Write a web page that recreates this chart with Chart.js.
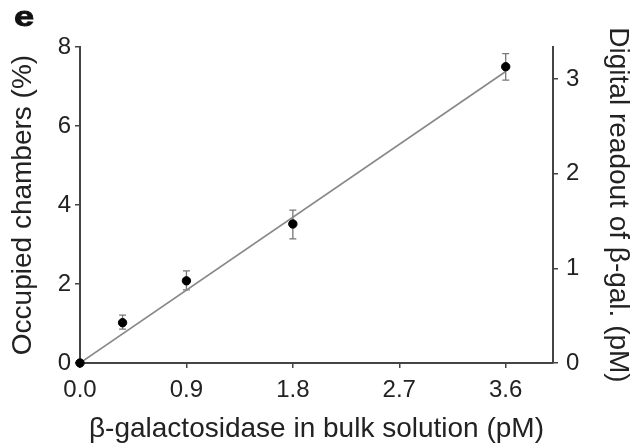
<!DOCTYPE html>
<html>
<head>
<meta charset="utf-8">
<script src="https://cdn.jsdelivr.net/npm/chart.js@4/dist/chart.umd.min.js"></script>
<style>
  body { margin: 0; background: #fff; }
  canvas { display: block; }
</style>
</head>
<body>
<canvas id="myChart" width="639" height="446"></canvas>
<script>
// concentration (pM) vs. occupied chambers (%)
const concX = [0, 0.36, 0.9, 1.8, 3.6];
const occupied = [0, 1.02, 2.08, 3.52, 7.50];
const errHigh = [0, 1.21, 2.33, 3.87, 7.83];
const errLow = [0, 0.86, 1.85, 3.14, 7.16];

// linear fit
const fitX = [0, 3.6];
const fitY = [0, 7.38];

const xTicks = [0, 0.9, 1.8, 2.7, 3.6];
const yTicks = [0, 2, 4, 6, 8];
const y2Ticks = [0, 1, 2, 3];

const FONT = "'Liberation Sans', Arial, sans-serif";
const AXIS = '#444';

const setTicks = (list) => (scale) => {
    scale.ticks = list.map(v => ({ value: v }));
};

const errorBars = {
    id: 'errorBars',
    beforeDatasetsDraw(chart) {
        const ctx = chart.ctx;
        const xs = chart.scales.x, ys = chart.scales.y;
        ctx.save();
        ctx.strokeStyle = '#777';
        ctx.lineWidth = 1.3;
        concX.forEach((x, i) => {
            if (errHigh[i] === errLow[i]) return;
            const px = xs.getPixelForValue(x);
            const top = ys.getPixelForValue(errHigh[i]);
            const bot = ys.getPixelForValue(errLow[i]);
            ctx.beginPath();
            ctx.moveTo(px, top); ctx.lineTo(px, bot);
            ctx.moveTo(px - 3.5, top); ctx.lineTo(px + 3.5, top);
            ctx.moveTo(px - 3.5, bot); ctx.lineTo(px + 3.5, bot);
            ctx.stroke();
        });
        ctx.restore();
    }
};

// bold panel letter in the top-left corner
const panelLetter = {
    id: 'panelLetter',
    afterDraw(chart) {
        const ctx = chart.ctx;
        ctx.save();
        ctx.translate(14, 26);
        ctx.scale(1.3, 1);
        ctx.font = 'bold 28px ' + FONT;
        ctx.fillStyle = '#111';
        ctx.strokeStyle = '#111';
        ctx.lineWidth = 0.8;
        ctx.textBaseline = 'alphabetic';
        ctx.fillText('e', 0, 0);
        ctx.strokeText('e', 0, 0);
        ctx.restore();
    }
};

const axisBase = (title, pad) => ({
    grid: { display: true, drawOnChartArea: false, drawTicks: true, tickLength: 5, color: AXIS, lineWidth: 1.5 },
    border: { display: true, color: AXIS, width: 2 },
    ticks: { color: '#222', font: { family: FONT, size: 24 }, padding: 4 },
    title: { display: true, text: title, color: '#222', font: { family: FONT, size: 28 }, padding: pad }
});

const xAxis = axisBase('β-galactosidase in bulk solution (pM)', { top: 0, bottom: 0 });
Object.assign(xAxis, {
    type: 'linear', position: 'bottom', min: 0, max: 4.0,
    afterBuildTicks: setTicks(xTicks),
    afterFit: (s) => { s.height = 83; }
});
xAxis.ticks.callback = (v) => v.toFixed(1);
xAxis.ticks.padding = 8;
xAxis.ticks.maxRotation = 0;

const yAxis = axisBase('Occupied chambers (%)', { top: 6, bottom: 0 });
Object.assign(yAxis, {
    position: 'left', min: 0, max: 8,
    afterBuildTicks: setTicks(yTicks),
    afterFit: (s) => { s.width = 80; }
});

const y2Axis = axisBase('Digital readout of β-gal. (pM)', { top: 4, bottom: 0 });
Object.assign(y2Axis, {
    position: 'right', min: 0, max: 3.34,
    afterBuildTicks: setTicks(y2Ticks),
    afterFit: (s) => { s.width = 86; }
});
y2Axis.ticks.padding = 8;

new Chart(document.getElementById('myChart').getContext('2d'), {
    type: 'scatter',
    data: {
        datasets: [
            {
                label: 'measured',
                data: concX.map((x, i) => ({ x: x, y: occupied[i] })),
                backgroundColor: '#000',
                borderColor: '#000',
                pointRadius: 4.2,
                clip: false
            },
            {
                type: 'line',
                label: 'fit',
                data: fitX.map((x, i) => ({ x: x, y: fitY[i] })),
                borderColor: '#888',
                borderWidth: 1.6,
                pointRadius: 0,
                fill: false
            }
        ]
    },
    options: {
        responsive: false,
        animation: false,
        layout: { padding: { top: 47, left: 0, right: 0, bottom: 0 } },
        plugins: { legend: { display: false }, tooltip: { enabled: false } },
        scales: { x: xAxis, y: yAxis, y2: y2Axis }
    },
    plugins: [errorBars, panelLetter]
});
</script>
</body>
</html>
